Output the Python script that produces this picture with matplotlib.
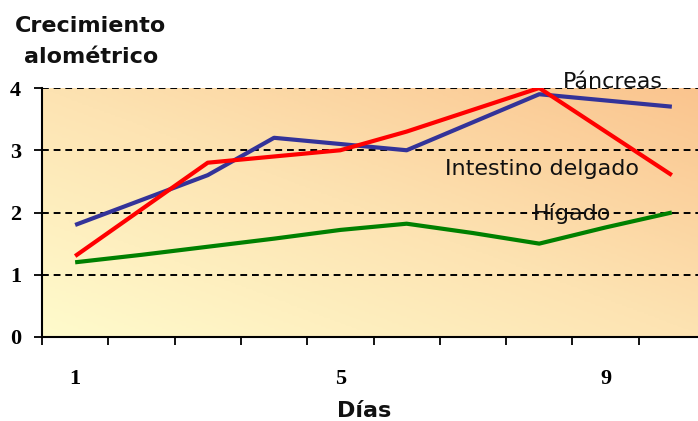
import numpy as np
import matplotlib
matplotlib.use("Agg")
import matplotlib.pyplot as plt
from matplotlib.colors import LinearSegmentedColormap

# data
dias = np.arange(1, 11)
pancreas = [1.8, 2.2, 2.6, 3.2, 3.1, 3.0, 3.45, 3.9, 3.8, 3.7]
intestino = [1.3, 2.05, 2.8, 2.9, 3.0, 3.3, 3.65, 4.0, 3.3, 2.6]
higado = [1.2, 1.32, 1.45, 1.58, 1.72, 1.82, 1.67, 1.5, 1.76, 2.0]
x_labels = {1: "1", 5: "5", 9: "9"}

W, H = 698, 421
fig = plt.figure(figsize=(W / 100, H / 100), dpi=100)
fig.patch.set_facecolor("white")

# axes in pixel coords: left 42, right 705 (runs off the edge), y0 at 337, y4 at 88
ax = fig.add_axes([42 / W, (H - 337) / H, (705 - 42) / W, (337 - 88) / H])
ax.set_xlim(0.5, 10.5)
ax.set_ylim(0, 4)

# diagonal gradient background
cmap = LinearSegmentedColormap.from_list("bg", ["#FFFBCC", "#FDE3B2", "#FAC48E"])
u, v = np.meshgrid(np.linspace(0, 1, 300), np.linspace(0, 1, 120))
grad = (u + v) / 2
ax.imshow(grad, cmap=cmap, extent=[0.5, 10.5, 0, 4], origin="lower",
          aspect="auto", zorder=0, vmin=0, vmax=1)

# dashed grid
for yv in [1, 2, 3, 4]:
    ax.axhline(yv, color="black", lw=1.4, ls=(0, (3.5, 2.5)), zorder=1)

ax.plot(dias, higado, color="#008000", lw=3, zorder=3, solid_capstyle="butt")
ax.plot(dias, pancreas, color="#333399", lw=3, zorder=3, solid_capstyle="butt")
ax.plot(dias, intestino, color="#FF0000", lw=3, zorder=4, solid_capstyle="butt")

lab_font = dict(fontsize=16, family="DejaVu Sans", color="#111111", zorder=5)
ax.text(613 / 66.3 - 75 / 66.3 + 1, 4.0, "Páncreas", ha="center", va="baseline", **lab_font)
ax.text(542 / 66.3 - 75 / 66.3 + 1, (337 - 175) / 62.25, "Intestino delgado",
        ha="center", va="baseline", **lab_font)
ax.text(572 / 66.3 - 75 / 66.3 + 1, (337 - 220) / 62.25, "Hígado",
        ha="center", va="baseline", **lab_font)

# spines
for s in ["top", "right"]:
    ax.spines[s].set_visible(False)
for s in ["left", "bottom"]:
    ax.spines[s].set_linewidth(1.5)
    ax.spines[s].set_color("black")
    ax.spines[s].set_zorder(6)

tick_font = dict(family="Liberation Serif", weight="bold", size=16)
ax.set_yticks([0, 1, 2, 3, 4])
ax.set_yticklabels(["0", "1", "2", "3", "4"], **tick_font)
ax.tick_params(axis="y", direction="out", length=6, width=1.3, pad=9)

ax.set_xticks(np.arange(0.5, 10.5, 1.0))
ax.set_xticklabels([])
ax.tick_params(axis="x", which="major", direction="out", length=6, width=1.3)
ax.set_xticks(list(x_labels.keys()), minor=True)
ax.set_xticklabels(list(x_labels.values()), minor=True, **tick_font)
ax.tick_params(axis="x", which="minor", length=0, pad=23)

title_font = dict(fontsize=16, family="DejaVu Sans", weight="bold", color="#111111")
fig.text(90 / W, 1 - 32 / H, "Crecimiento", ha="center", va="baseline", **title_font)
fig.text(91 / W, 1 - 63 / H, "alométrico", ha="center", va="baseline", **title_font)
fig.text(364 / W, 1 - 417 / H, "Días", ha="center", va="baseline", **title_font)

fig.savefig("out.png", dpi=100, facecolor="white")
